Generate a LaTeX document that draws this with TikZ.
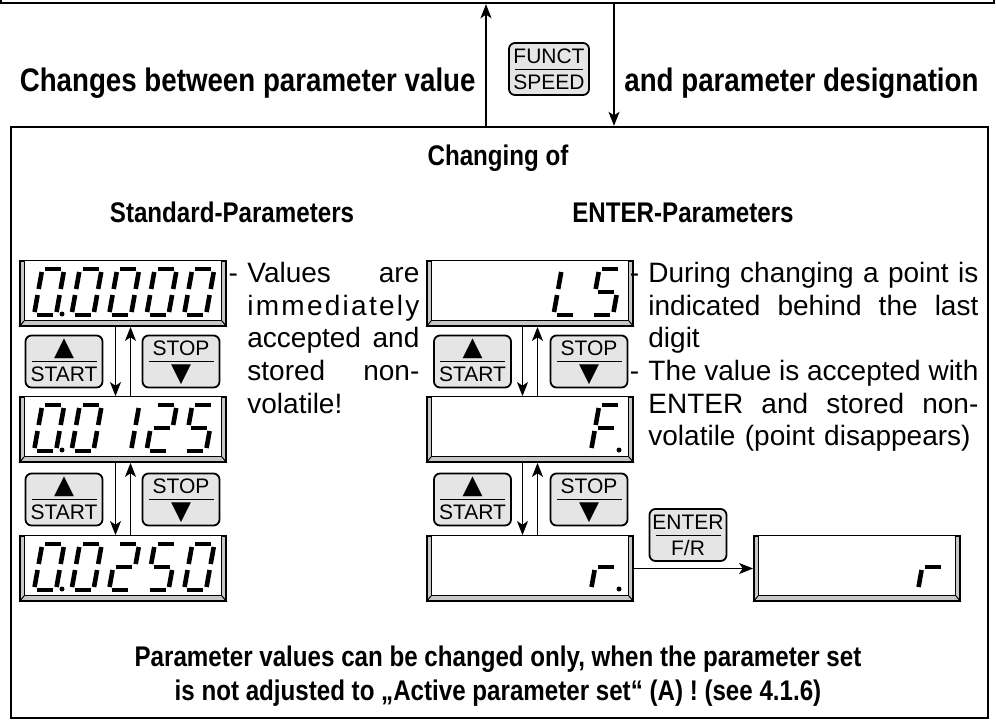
\documentclass[tikz,border=0pt]{standalone}
\usepackage{fontspec}
\setmainfont{Liberation Sans}
\newfontfamily\headfont[FakeStretch=0.85]{Liberation Sans}
\newfontfamily\symfont{DejaVu Sans}
\usetikzlibrary{arrows.meta,fit,positioning}

\tikzset{
  frame/.style={draw, line width=1.2pt, inner sep=0pt},
  opkey/.style={draw, line width=0.9pt, rounded corners=3pt, fill=black!10,
    minimum width=38.5pt, minimum height=26pt, inner sep=0pt,
    path picture={\draw[line width=0.5pt]
      ([xshift=3pt]path picture bounding box.west) -- ([xshift=-3pt]path picture bounding box.east);}},
  keytext/.style={font=\fontsize{10.5}{12}\selectfont, inner sep=0pt},
  lcdframe/.style={draw, line width=0.9pt, fill=black!22, inner sep=0pt},
  lcdface/.style={draw, line width=0.5pt, fill=white},
  segline/.style={line width=2.3pt},
  flow/.style={line width=0.6pt, -{Stealth[length=7pt,width=5.5pt,inset=1.8pt]}},
  heading/.style={font=\headfont\bfseries\fontsize{14.2}{17}\selectfont, inner sep=0pt},
  bighead/.style={font=\headfont\bfseries\fontsize{16.3}{19}\selectfont, inner sep=0pt},
  note/.style={font=\fontsize{14}{16.3}\selectfont, inner sep=0pt, align=left},
  seg/a/.style={insert path={(3,46)--(19,46)}},
  seg/b/.style={insert path={(22,43)--(22,26)}},
  seg/c/.style={insert path={(22,20)--(22,3)}},
  seg/d/.style={insert path={(3,0)--(19,0)}},
  seg/e/.style={insert path={(0,3)--(0,20)}},
  seg/f/.style={insert path={(0,26)--(0,43)}},
  seg/g/.style={insert path={(3,23)--(19,23)}},
}

\newcommand\upmark{{\symfont\fontsize{13}{13}\selectfont ▲}}
\newcommand\downmark{{\symfont\fontsize{13}{13}\selectfont ▼}}

% key: [options] name, position, upper text, lower text
\newcommand\opkey[5][]{%
  \node[opkey,#1] (#2) at (#3) {};
  \node[keytext, anchor=base] (#2-up) at ([yshift=3pt]#2.center) {#4};
  \node[keytext, anchor=base] (#2-dn) at ([yshift=-10pt]#2.center) {#5};
}

% display: name, left, top
\newcommand\lcd[3]{%
  \node[lcdframe, fit={(#2,#3) (#2+206,#3+65)}] (#1) {};
  \draw[lcdface] ([xshift=2.5pt,yshift=-0.4pt]#1.north west) rectangle ([xshift=-2.5pt,yshift=3pt]#1.south east);
  \draw[line width=0.5pt] ([xshift=2.5pt,yshift=3pt]#1.south west) -- (#1.south west)
    ([xshift=-2.5pt,yshift=3pt]#1.south east) -- (#1.south east);
}

% digit: display left, top, position, segments
\newcommand\lcdchar[4]{%
  \begin{scope}[shift={(#1+14+37.5*#3,#2+54)}, yscale=-1, xslant=-0.18]
    \foreach \s in {#4} {\draw[segline, seg/\s];}
  \end{scope}}
\newcommand\lcddot[3]{\fill (#1+14+37.5*#3+28,#2+53) circle[radius=2.5];}

\begin{document}
\begin{tikzpicture}[x=0.5pt, y=-0.5pt]
\useasboundingbox (0,0) rectangle (996,724);

\node[frame, fit={(1,-40) (994,3)}] (top) {};
\node[frame, fit={(11,127) (988,718)}] (box) {};

\node[bighead, anchor=base east] (chg) at (476,91) {Changes between parameter value};
\node[bighead, anchor=base west] (desig) at (624,91) {and parameter designation};
\opkey[minimum width=40pt]{funct}{549,69}{FUNCT}{SPEED}
\coordinate (upx) at (486,0);
\coordinate (dnx) at (614,0);
\draw[flow] (upx |- box.north) -- (upx |- top.south);
\draw[flow] (dnx |- top.south) -- (dnx |- box.north);

\node[heading, anchor=base] (chgof) at (498,165) {Changing of};
\node[heading, anchor=base] (stdpar) at (232,222) {Standard-Parameters};
\node[heading, anchor=base] (entpar) at (683,222) {ENTER-Parameters};

% standard parameters
\lcd{d1}{20}{261}
\lcd{d2}{20}{397}
\lcd{d3}{20}{536}
\foreach \p in {0,...,4} {\lcdchar{20}{261}{\p}{a,b,c,d,e,f}}
\lcddot{20}{261}{0}
\lcdchar{20}{397}{0}{a,b,c,d,e,f}
\lcddot{20}{397}{0}
\lcdchar{20}{397}{1}{a,b,c,d,e,f}
\lcdchar{20}{397}{2}{b,c}
\lcdchar{20}{397}{3}{a,b,g,e,d}
\lcdchar{20}{397}{4}{a,f,g,c,d}
\lcdchar{20}{536}{0}{a,b,c,d,e,f}
\lcddot{20}{536}{0}
\lcdchar{20}{536}{1}{a,b,c,d,e,f}
\lcdchar{20}{536}{2}{a,b,g,e,d}
\lcdchar{20}{536}{3}{a,f,g,c,d}
\lcdchar{20}{536}{4}{a,b,c,d,e,f}

\opkey{start1}{64,361.5}{\upmark}{START}
\opkey{stop1}{181,361.5}{STOP}{\downmark}
\opkey{start2}{64,499.5}{\upmark}{START}
\opkey{stop2}{181,499.5}{STOP}{\downmark}

% enter parameters
\lcd{d4}{427}{261}
\lcd{d5}{427}{397}
\lcd{d6}{427}{536}
\lcd{d7}{754}{536}
\lcdchar{427}{261}{3}{f,e,d}
\lcdchar{427}{261}{4}{a,f,g,c,d}
\lcdchar{427}{397}{4}{a,f,g,e}
\lcddot{427}{397}{4}
\lcdchar{427}{536}{4}{e,g}
\lcddot{427}{536}{4}
\lcdchar{754}{536}{4}{e,g}

\opkey{start3}{472.5,361.5}{\upmark}{START}
\opkey{stop3}{589,361.5}{STOP}{\downmark}
\opkey{start4}{472.5,499.5}{\upmark}{START}
\opkey{stop4}{589,499.5}{STOP}{\downmark}
\opkey{enter}{688,535}{ENTER}{F/R}

\foreach \a/\b in {d1/d2, d2/d3, d4/d5, d5/d6} {
  \draw[flow] ([xshift=-3.75pt]\a.south) -- ([xshift=-3.75pt]\b.north);
  \draw[flow] ([xshift=3.75pt]\b.north) -- ([xshift=3.75pt]\a.south);
}
\draw[flow] (d6.east) -- (d7.west);

\node[note, anchor=north west, text width=86pt] (valnote) at (247,262)
  {\noindent\llap{- }\makebox[86pt][s]{Values\hfill are}\\
   \noindent\makebox[86pt][s]{i\hfill m\hfill m\hfill e\hfill d\hfill i\hfill a\hfill t\hfill e\hfill l\hfill y}\\
   \noindent\makebox[86pt][s]{accepted\hfill and}\\
   \noindent\makebox[86pt][s]{stored\hfill non-}\\
   \noindent volatile!};
\node[note, anchor=north west, text width=165pt] (entnote) at (648,262)
  {\noindent\llap{- }\makebox[165pt][s]{During\hfill changing\hfill a\hfill point\hfill is}\\
   \noindent\makebox[165pt][s]{indicated\hfill behind\hfill the\hfill last}\\
   \noindent digit\\
   \noindent\llap{- }\makebox[165pt][s]{The\hfill value\hfill is\hfill accepted\hfill with}\\
   \noindent\makebox[165pt][s]{ENTER\hfill and\hfill stored\hfill non-}\\
   \noindent volatile (point disappears)};

\node[heading, anchor=base] (warn1) at (498,666) {Parameter values can be changed only, when the parameter set};
\node[heading, anchor=base] (warn2) at (498,700) {is not adjusted to „Active parameter set“ (A) ! (see 4.1.6)};

\end{tikzpicture}
\end{document}
